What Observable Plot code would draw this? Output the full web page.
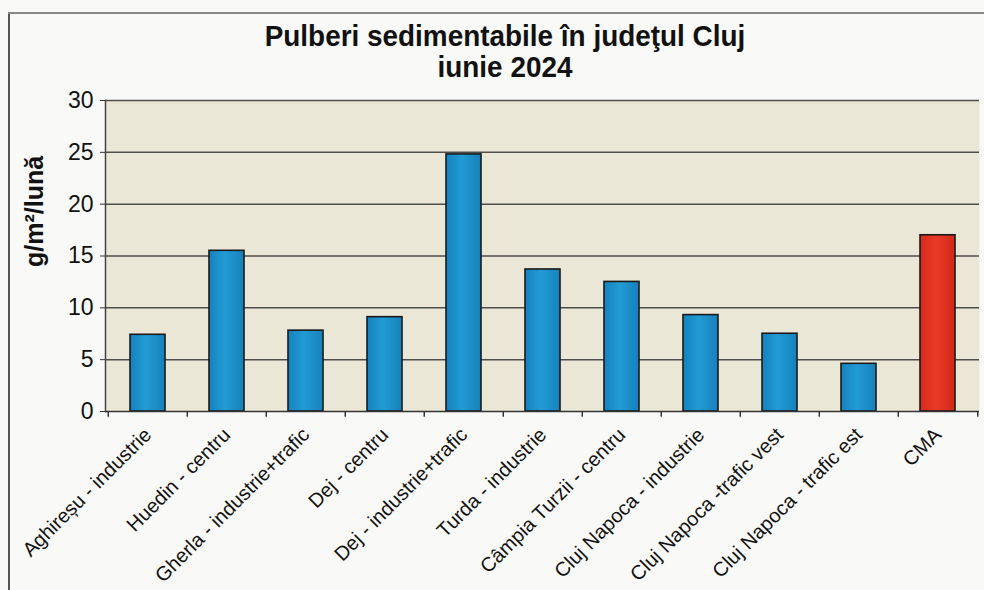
<!DOCTYPE html>
<html>
<head>
<meta charset="utf-8">
<script src="https://cdn.jsdelivr.net/npm/d3@7"></script>
<script src="https://cdn.jsdelivr.net/npm/@observablehq/plot@0.6"></script>
<style>
  html, body { margin: 0; padding: 0; overflow: hidden; background: #f9f9f7; }
  #wrap { position: relative; width: 984px; height: 590px; overflow: hidden; background: #f9f9f7; }
  #edgeL { position: absolute; left: 8px; top: 12px; width: 2px; height: 600px; background: #555; }
  #edgeT { position: absolute; left: 8px; top: 12px; width: 976px; height: 2px; background: #888; }
  #title { position: absolute; left: 0; top: 20px; width: 1010px; text-align: center;
           font-family: "Liberation Sans", Arial, sans-serif;
           font-weight: bold; font-size: 30px; line-height: 31px; color: #111;
           transform: scaleX(0.93); transform-origin: 505px 0; }
  #chart { position: absolute; left: 0; top: 0; }
  #chart svg { overflow: visible; display: block; }
</style>
</head>
<body>
<div id="wrap">
  <div id="edgeL"></div>
  <div id="edgeT"></div>
  <div id="chart"></div>
  <div id="title">Pulberi sedimentabile în judeţul Cluj<br>iunie 2024</div>
</div>
<script>
const categories = [
  "Aghireșu - industrie",
  "Huedin - centru",
  "Gherla - industrie+trafic",
  "Dej - centru",
  "Dej - industrie+trafic",
  "Turda - industrie",
  "Câmpia Turzii - centru",
  "Cluj Napoca - industrie",
  "Cluj Napoca -trafic vest",
  "Cluj Napoca - trafic est",
  "CMA"
];
const values = [7.4, 15.5, 7.8, 9.1, 24.8, 13.7, 12.5, 9.3, 7.5, 4.6, 17];
const yTicks = [0, 5, 10, 15, 20, 25, 30];
const yLabel = "g/m²/lună";

const data = categories.map((name, i) => ({
  name, value: values[i],
  fill: name === "CMA" ? "url(#gRed)" : "url(#gBlue)"
}));

const W = 984, H = 590, mL = 105, mR = 5, mT = 100, mB = 179;
const pad = 0.56;
const step = (W - mL - mR) / categories.length;
const font = '"Liberation Sans", Arial, sans-serif';

const chart = Plot.plot({
  width: W, height: H,
  marginLeft: mL, marginRight: mR, marginTop: mT, marginBottom: mB,
  style: { fontFamily: font, color: "#111", background: "transparent", overflow: "visible" },
  x: { domain: categories, paddingInner: pad, paddingOuter: pad / 2, label: null },
  y: { domain: [0, 30], label: null },
  color: { type: "identity" },
  marks: [
    Plot.frame({ fill: "#ebe7d6", stroke: null }),
    Plot.gridY(yTicks.filter(d => d > 0), { stroke: "#3c3c3c", strokeOpacity: 0.9, strokeWidth: 1.5 }),
    Plot.axisY(yTicks, { tickSize: 5, tickPadding: 7, fontSize: 23, stroke: "#333", label: null }),
    Plot.frame({ anchor: "left", stroke: "#444", strokeWidth: 1.5 }),
    Plot.barY(data, { x: "name", y: "value", fill: "fill", stroke: "#1a1a1a", strokeWidth: 1.6 }),
    Plot.ruleY([0], { stroke: "#333", strokeWidth: 1.6 }),
    Plot.ruleX(categories, { x: d => d, y1: 0, y2: -0.55, dx: -step / 2, stroke: "#333", strokeWidth: 1.5 }),
    Plot.ruleX(categories.slice(-1), { x: d => d, y1: 0, y2: -0.55, dx: step / 2, stroke: "#333", strokeWidth: 1.5 }),
    Plot.axisX({ tickRotate: -45, tickSize: 0, tickPadding: 20, dx: 0, fontSize: 20, label: null }),
    Plot.text([yLabel], { text: d => d, frameAnchor: "left", rotate: -90, dx: -71, dy: 11,
      fontSize: 25, fontWeight: "bold", fill: "#111" })
  ]
});

const svg = d3.select(chart);
const defs = svg.insert("defs", ":first-child");
const gb = defs.append("linearGradient").attr("id", "gBlue").attr("x1", 0).attr("x2", 1).attr("y1", 0).attr("y2", 0);
gb.append("stop").attr("offset", "0%").attr("stop-color", "#1582bc");
gb.append("stop").attr("offset", "45%").attr("stop-color", "#229bd5");
gb.append("stop").attr("offset", "100%").attr("stop-color", "#1681bb");
const gr = defs.append("linearGradient").attr("id", "gRed").attr("x1", 0).attr("x2", 1).attr("y1", 0).attr("y2", 0);
gr.append("stop").attr("offset", "0%").attr("stop-color", "#d72a1c");
gr.append("stop").attr("offset", "45%").attr("stop-color", "#ea3a26");
gr.append("stop").attr("offset", "100%").attr("stop-color", "#d22819");

document.getElementById("chart").appendChild(chart);
</script>
</body>
</html>
